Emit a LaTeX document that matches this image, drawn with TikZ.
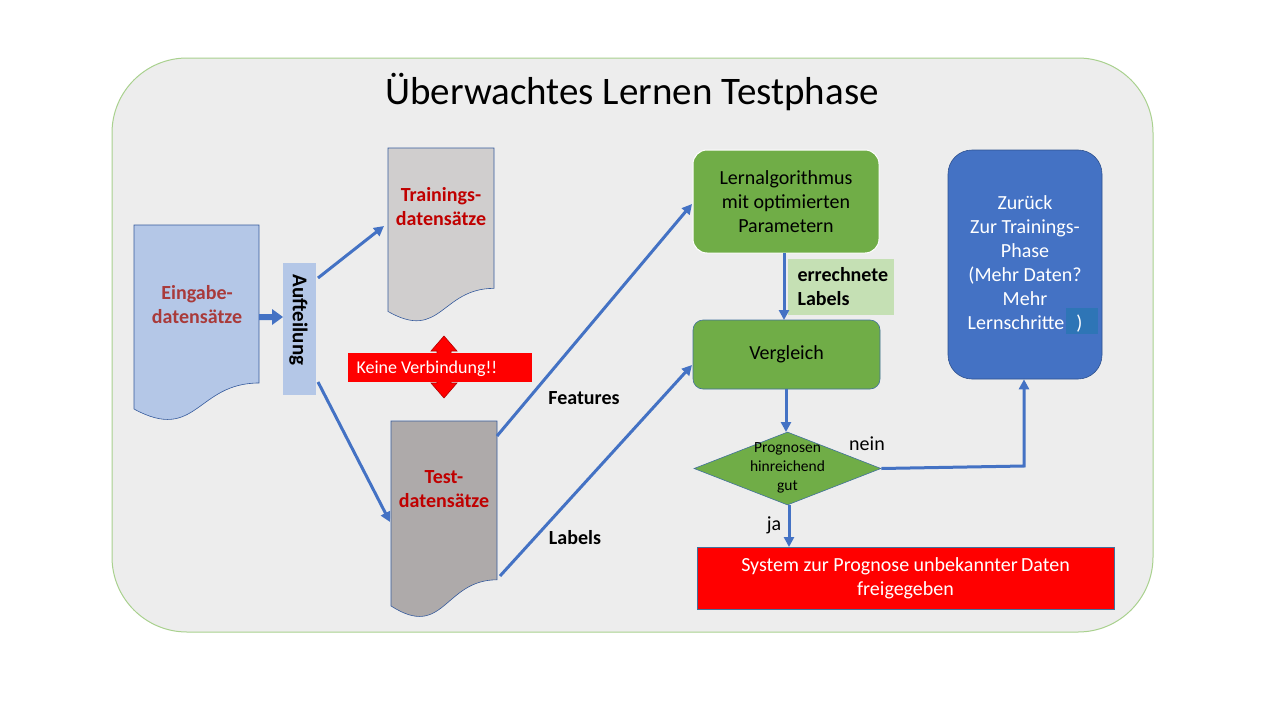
\documentclass[tikz,border=0pt]{standalone}
\usepackage{fontspec}
\setmainfont{Carlito}
\usetikzlibrary{arrows.meta,shapes.geometric,calc}
\definecolor{bgfill}{HTML}{EDEDED}
\definecolor{bgedge}{HTML}{A9D18E}
\definecolor{bl}{HTML}{4472C4}
\definecolor{grn}{HTML}{70AD47}
\definecolor{lgrn}{HTML}{C5E0B4}
\definecolor{docblue}{HTML}{B4C7E7}
\definecolor{gray1}{HTML}{D0CECE}
\definecolor{gray2}{HTML}{AEAAAA}
\definecolor{dred}{HTML}{C00000}
\definecolor{ered}{HTML}{A93A3A}
\definecolor{edgeb}{HTML}{41719C}
\definecolor{hl}{HTML}{2E75B6}
\definecolor{zedge}{HTML}{2F528F}
\tikzset{
  conn/.style={draw=bl,line width=3pt,-{Triangle[length=10pt,width=10pt]}},
  doctext/.style={font=\fontsize{20}{24}\selectfont\bfseries,text=dred,align=center},
  gbox/.style={draw=white,line width=1pt,fill=grn,rounded corners=14pt,font=\fontsize{20}{24}\selectfont,align=center,inner sep=0pt},
  lbl/.style={font=\fontsize{20}{24}\selectfont\bfseries,align=left},
}
% doc shape: x y w h fill
\newcommand{\docpath}[5]{%
  \fill[#5,draw=bl!80!black,line width=0.6pt] (#1,#2) -- ({#1+#3},#2) -- ({#1+#3},{#2+0.802*#4})
   .. controls ({#1+0.5*#3},{#2+0.802*#4}) and ({#1+0.5*#3},{#2+1.107*#4}) .. (#1,{#2+0.934*#4}) -- cycle;}
\begin{document}
\begin{tikzpicture}[x=1pt,y=-1pt]
\useasboundingbox (0,0) rectangle (1280,720);
\fill[white] (0,0) rectangle (1280,720);
% background panel
\node[draw=bgedge,line width=1pt,fill=bgfill,rounded corners=75pt,minimum width=1041pt,minimum height=574pt,inner sep=0pt] (panel) at (632.5,345) {};
\node[font=\fontsize{39}{44}\selectfont] (title) at (632,92) {Überwachtes Lernen Testphase};
% documents
\docpath{134}{225}{125}{197}{docblue}
\node[doctext,text=ered] (eing) at (197,305) {Eingabe-\\datensätze};
\docpath{388}{148}{106}{175}{gray1}
\node[doctext] (train) at (441,207) {Trainings-\\datensätze};
\docpath{391}{421}{106}{198}{gray2}
\node[doctext] (test) at (444,489) {Test-\\datensätze};
% Aufteilung
\node[fill=docblue,minimum width=33pt,minimum height=132pt,inner sep=0pt] (auf) at (299.5,329) {};
\node[rotate=-90,font=\fontsize{21}{24}\selectfont\bfseries] (auftxt) at (298.5,320) {Aufteilung};
% thick arrow
\fill[bl] (259,314) -- (272,314) -- (272,309) -- (283,317) -- (272,325) -- (272,320) -- (259,320) -- cycle;
% arrows from Aufteilung
\coordinate (a1) at (318,278);
\coordinate (t1) at (384,226);
\draw[conn] (a1) -- (t1);
\coordinate (a2) at (318,382);
\coordinate (t2) at (390,522);
\draw[conn] (a2) -- (t2);
% Keine Verbindung
\fill[red,draw=red!70!black,line width=0.6pt] (444,336) -- (457,351) -- (451,351) -- (451,383) -- (457,383) -- (444,398) -- (431,383) -- (437,383) -- (437,351) -- (431,351) -- cycle;
\node[fill=red,minimum width=184pt,minimum height=29pt,inner sep=0pt] (keine) at (440,367.5) {};
\node[anchor=west,text=white,font=\fontsize{18}{20}\selectfont] (keinetxt) at (353,369) {Keine Verbindung!!};
% green boxes
\node[gbox,minimum width=186pt,minimum height=103pt] (lern) at (786,201.5) {Lernalgorithmus\\mit optimierten\\Parametern};
\node[gbox,draw=edgeb,line width=0.6pt,rounded corners=10pt,minimum width=187pt,minimum height=69pt] (verg) at (786.5,354.5) {Vergleich};
\node[fill=lgrn,minimum width=106pt,minimum height=56pt,inner sep=0pt] (err) at (841,287) {};
\node[lbl,anchor=west] (errtxt) at (794,287) {errechnete\\Labels};
\draw[conn] (784,253) -- (784,320);
% features/labels
\coordinate (f1) at (497,436);
\coordinate (f2) at (692,204);
\draw[conn] (f1) -- (f2);
\coordinate (l1) at (500,576);
\coordinate (l2) at (692,365);
\draw[conn] (l1) -- (l2);
\node[lbl] (feat) at (584,398) {Features};
\node[lbl] (labs) at (575,538) {Labels};
% diamond
\node[diamond,draw=edgeb,line width=0.6pt,fill=grn,minimum width=187pt,minimum height=73pt,inner sep=0pt,aspect=2.56] (dia) at (787.5,468.5) {};
\node[align=center,font=\fontsize{15.5}{19}\selectfont] (diatxt) at (787.5,468) {Prognosen\\hinreichend\\gut};
\draw[conn] (786,389) -- (786,432);
% Zurueck box
\node[draw=zedge,line width=0.6pt,fill=bl,rounded corners=24pt,minimum width=154pt,minimum height=229pt,inner sep=0pt] (zur) at (1025,264.5) {};
\fill[hl] (1066,308) rectangle (1098,334);
\node[text=white,align=center,font=\fontsize{20}{24}\selectfont] (zurtxt) at (1025,264) {Zurück\\Zur Trainings-\\Phase\\(Mehr Daten?\\Mehr\\Lernschritte\hspace{12pt})};
% nein path
\draw[conn] (dia.east) -- (1024,466) -- (zur.south-|1024,0);
\node[font=\fontsize{20}{24}\selectfont] (nein) at (867,444) {nein};
% System
\node[draw=edgeb,line width=0.6pt,fill=red,minimum width=417pt,minimum height=62pt,inner sep=0pt,text=white,align=center,font=\fontsize{20}{24}\selectfont] (sys) at (905.5,578) {System zur Prognose unbekannter\,Daten\\freigegeben};
\draw[conn] (789,505) -- (789,547);
\node[font=\fontsize{20}{24}\selectfont] (ja) at (774,525) {ja};
\end{tikzpicture}
\end{document}
